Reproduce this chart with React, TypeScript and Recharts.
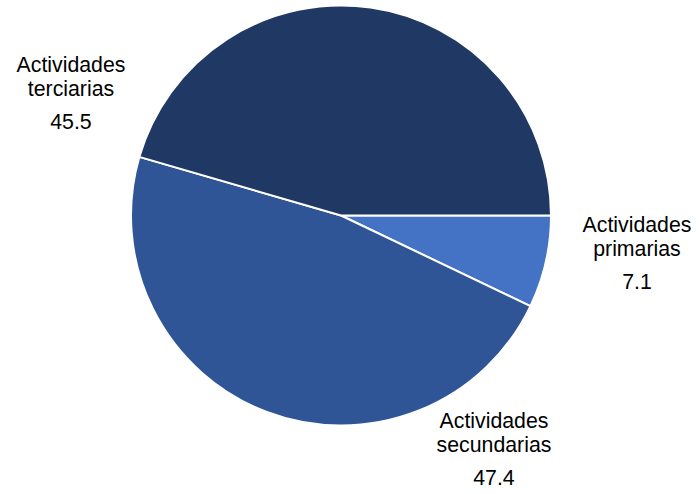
import { PieChart, Pie, Cell } from 'recharts';

const sectors = ['Actividades primarias', 'Actividades secundarias', 'Actividades terciarias'];
const nameLines = [
    ['Actividades', 'primarias'],
    ['Actividades', 'secundarias'],
    ['Actividades', 'terciarias'],
];
const shares = [7.1, 47.4, 45.5];
const colors = ['#4472C4', '#2F5597', '#203864'];

// where each label block sits, relative to the pie centre
const labelOffset = [
    { dx: 296, dy: 16.5 },
    { dx: 153, dy: 212.5 },
    { dx: -270, dy: -143.5 },
];

const data = sectors.map((s, i) => ({ name: s, value: shares[i] }));

const renderLabel = (props: any) => {
    const { cx, cy, index, value } = props;
    const off = labelOffset[index];
    const x = cx + off.dx;
    const y = cy + off.dy;
    const [l1, l2] = nameLines[index];
    return (
        <text x={x} y={y} textAnchor="middle" fill="#000" fontSize={21.3} fontFamily="'Liberation Sans', Arial, sans-serif">
            <tspan x={x} y={y}>{l1}</tspan>
            <tspan x={x} y={y + 23.5}>{l2}</tspan>
            <tspan x={x} y={y + 57}>{value.toFixed(1)}</tspan>
        </text>
    );
};

export default function App() {
    return (
        <div style={{ position: 'absolute', left: 0, top: 0, width: 699, height: 494, background: '#fff' }}>
            <PieChart width={699} height={494} margin={{ top: 0, right: 0, bottom: 0, left: 0 }}>
                <Pie
                    data={data}
                    dataKey="value"
                    cx={341}
                    cy={215.5}
                    outerRadius={210}
                    startAngle={0}
                    endAngle={-360}
                    stroke="#fff"
                    strokeWidth={2}
                    label={renderLabel}
                    labelLine={false}
                    isAnimationActive={false}
                >
                    {data.map((d, i) => (
                        <Cell key={d.name} fill={colors[i]} />
                    ))}
                </Pie>
            </PieChart>
        </div>
    );
}
